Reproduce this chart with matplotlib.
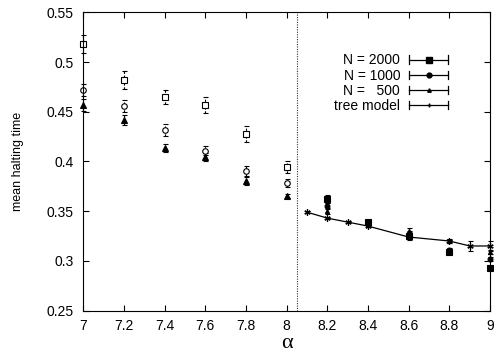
import numpy as np
import matplotlib
matplotlib.use('Agg')
import matplotlib.pyplot as plt
from matplotlib.lines import Line2D
from matplotlib.legend_handler import HandlerBase
from matplotlib.ticker import FormatStrFormatter, MultipleLocator

# data
alpha_left = [7.0, 7.2, 7.4, 7.6, 7.8, 8.0]
n2000_left = [0.518, 0.482, 0.465, 0.457, 0.428, 0.394]
n2000_left_err = [0.009, 0.009, 0.007, 0.008, 0.008, 0.006]
n1000_left = [0.472, 0.456, 0.432, 0.411, 0.390, 0.378]
n1000_left_err = [0.006, 0.006, 0.006, 0.005, 0.005, 0.004]
n500_left = [0.457, 0.442, 0.414, 0.404, 0.380, 0.365]
n500_left_err = [0.006, 0.005, 0.004, 0.004, 0.004, 0.002]

alpha_right = [8.2, 8.4, 8.6, 8.8, 9.0]
n2000_right = [0.362, 0.339, 0.325, 0.309, 0.293]
n2000_right_err = [0.004, 0.002, 0.004, 0.002, 0.002]
n1000_right = [0.355, 0.337, 0.327, 0.311, 0.302]
n1000_right_err = [0.003, 0.002, 0.003, 0.002, 0.002]
n500_right = [0.350, 0.336, 0.330, 0.320, 0.309]
n500_right_err = [0.003, 0.002, 0.003, 0.002, 0.002]

alpha_tree = [8.1, 8.2, 8.3, 8.4, 8.6, 8.8, 8.9, 9.0]
tree = [0.349, 0.343, 0.339, 0.335, 0.324, 0.320, 0.315, 0.315]
tree_err = [0.001, 0.001, 0.001, 0.001, 0.001, 0.001, 0.005, 0.005]

alpha_c = 8.05

plt.rcParams['font.family'] = ['Liberation Sans', 'DejaVu Sans']

fig = plt.figure(figsize=(4.94, 3.56), dpi=100)
ax = fig.add_axes([0.1686, 0.1275, 0.8234, 0.838])


class HandlerErr(HandlerBase):
    # gnuplot style key sample: horizontal bar with end caps and point in middle
    def create_artists(self, legend, orig_handle, xdescent, ydescent,
                       width, height, fontsize, trans):
        y = height / 2 - ydescent
        x0, x1 = -xdescent, width - xdescent
        cap = 3
        arts = [Line2D([x0, x1], [y, y], color='k', lw=0.9),
                Line2D([x0, x0], [y - cap, y + cap], color='k', lw=0.9),
                Line2D([x1, x1], [y - cap, y + cap], color='k', lw=0.9),
                Line2D([(x0 + x1) / 2], [y], color='k', ls='none',
                       marker=orig_handle.get_marker(),
                       markersize=orig_handle.get_markersize())]
        for a in arts:
            a.set_transform(trans)
        return arts


def errplot(x, y, e, marker, ms, mfc, dashed=False, **kw):
    cont = ax.errorbar(x, y, yerr=e, fmt=marker, ms=ms, mfc=mfc, mec='k',
                       mew=0.8, color='k', ecolor='k', elinewidth=0.8,
                       capsize=1.8, capthick=0.8, **kw)
    for a in cont.get_children():
        a.set_clip_on(False)
    if dashed:
        cont[2][0].set_linestyle((0, (2, 1.5)))
    return cont


# alpha < alpha_c : open symbols
errplot(alpha_left, n2000_left, n2000_left_err, 's', 4.5, 'white', dashed=True)
errplot(alpha_left, n1000_left, n1000_left_err, 'o', 4, 'white', dashed=True)
errplot(alpha_left, n500_left, n500_left_err, '^', 4, 'k', dashed=True)

# alpha > alpha_c : filled symbols
errplot(alpha_right, n2000_right, n2000_right_err, 's', 4.5, 'k')
errplot(alpha_right, n1000_right, n1000_right_err, 'o', 3.5, 'k')
errplot(alpha_right, n500_right, n500_right_err, '^', 3, 'k')
errplot(alpha_tree, tree, tree_err, '-', 0, 'k', lw=0.9)
ax.plot(alpha_tree, tree, ls='none', marker=(6, 2, 0), ms=4.5, color='k',
        mew=0.9, clip_on=False)

ax.axvline(alpha_c, color='#333333', lw=0.8, ls=(0, (1, 1.2)))

h = [Line2D([], [], marker='s', markersize=4.5),
     Line2D([], [], marker='o', markersize=3.5),
     Line2D([], [], marker='^', markersize=2.5),
     Line2D([], [], marker='+', markersize=3)]
labels = ['N = 2000', 'N = 1000', 'N =   500', 'tree model']
ax.legend(h, labels, handler_map={Line2D: HandlerErr()}, markerfirst=False,
          frameon=False, loc='upper right', bbox_to_anchor=(0.897, 0.862),
          borderpad=0, borderaxespad=0, handlelength=2.8, handletextpad=0.65,
          labelspacing=0.08, fontsize=10)

ax.set_xlim(7, 9)
ax.set_ylim(0.25, 0.55)
ax.xaxis.set_major_locator(MultipleLocator(0.2))
ax.yaxis.set_major_locator(MultipleLocator(0.05))
ax.xaxis.set_major_formatter(FormatStrFormatter('%g'))
ax.yaxis.set_major_formatter(FormatStrFormatter('%g'))
ax.tick_params(direction='in', length=4, width=0.8, top=True, right=True,
               labelsize=10)
ax.tick_params(axis='x', pad=6)
ax.tick_params(axis='y', pad=7)
for s in ax.spines.values():
    s.set_linewidth(0.8)

ax.set_xlabel('α', fontsize=16, family=['Liberation Serif', 'DejaVu Serif'],
              labelpad=1)
ax.set_ylabel('mean halting time', fontsize=9, labelpad=16)

fig.savefig('out.png', dpi=100)
